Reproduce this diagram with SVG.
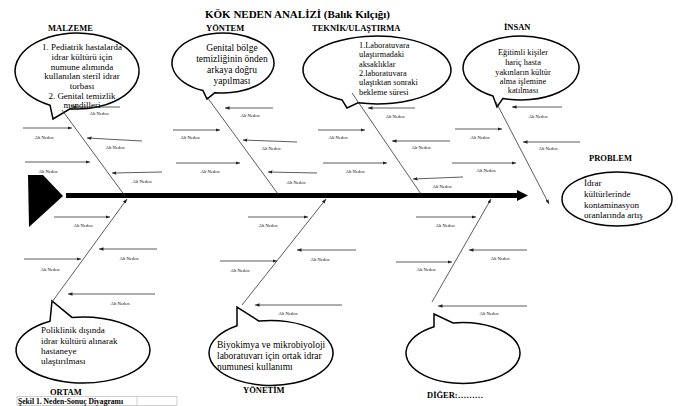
<svg xmlns="http://www.w3.org/2000/svg" width="678" height="406" viewBox="0 0 678 406">
<style>
text{font-family:"Liberation Serif","Times New Roman",serif;fill:#000}
.title{font-size:11px;font-weight:bold}
.cat{font-size:8.5px;font-weight:bold}
.bt{font-size:9px}
.alt{font-size:4.6px;text-anchor:middle}
.c{text-anchor:middle}
.balloon{fill:#fff;stroke:#000;stroke-width:1.5}
.bone{stroke:#333;stroke-width:0.8;fill:none}
.sub{stroke:#333;stroke-width:0.8;fill:none;marker-end:url(#ah)}
</style>
<defs>
<marker id="ah" viewBox="0 0 10 10" refX="10" refY="5" markerWidth="4.5" markerHeight="3.5" orient="auto" markerUnits="userSpaceOnUse" preserveAspectRatio="none">
<path d="M0,0 L10,5 L0,10 z" fill="#222"/>
</marker>
</defs>
<rect width="678" height="406" fill="#fff"/>

<g id="title"><text class="title" x="205" y="18" textLength="185" lengthAdjust="spacingAndGlyphs">KÖK NEDEN ANALİZİ (Balık Kılçığı)</text></g>

<g id="malzeme">
<text class="cat" x="48" y="31">MALZEME</text>
<path class="balloon" d="M70,108.76 A62,38 0 1 0 50,105.2 L53,119 Z"/>
<text class="bt c" x="82" y="50">1. Pediatrik hastalarda</text>
<text class="bt c" x="82" y="60">idrar kültürü için</text>
<text class="bt c" x="82" y="69.5">numune alımında</text>
<text class="bt c" x="82" y="79">kullanılan steril idrar</text>
<text class="bt c" x="82" y="89">torbası</text>
<text class="bt c" x="82" y="98.5">2. Genital temizlik</text>
<text class="bt c" x="82" y="108">mendilleri</text>
</g>

<g id="yontem">
<text class="cat" x="206" y="31">YÖNTEM</text>
<path class="balloon" d="M215,92.63 A51,30 0 1 0 203,90.6 L207,99 Z"/>
<text class="bt c" x="232" y="51" style="font-size:9.5px">Genital bölge</text>
<text class="bt c" x="232" y="62" style="font-size:9.5px">temizliğinin önden</text>
<text class="bt c" x="232" y="73" style="font-size:9.5px">arkaya doğru</text>
<text class="bt c" x="232" y="84" style="font-size:9.5px">yapılması</text>
</g>

<g id="teknik">
<text class="cat" x="312" y="31">TEKNİK/ULAŞTIRMA</text>
<path class="balloon" d="M358,102.86 A74,34 0 1 0 342,99.96 L347,108 Z"/>
<text class="bt" x="359" y="48" style="font-size:8.3px">1.Laboratuvara</text>
<text class="bt" x="359" y="57.3" style="font-size:8.3px">ulaştırmadaki</text>
<text class="bt" x="359" y="66.6" style="font-size:8.3px">aksaklıklar</text>
<text class="bt" x="359" y="76" style="font-size:8.3px">2.laboratuvara</text>
<text class="bt" x="359" y="85.3" style="font-size:8.3px">ulaştıktan sonraki</text>
<text class="bt" x="359" y="94.6" style="font-size:8.3px">bekleme süresi</text>
</g>

<g id="insan">
<text class="cat" x="504" y="30">İNSAN</text>
<path class="balloon" d="M503,98.42 A58,32 0 1 0 493,96.02 L497,107 Z"/>
<text class="bt c" x="523" y="55" style="font-size:8.3px">Eğitimli kişiler</text>
<text class="bt c" x="523" y="65" style="font-size:8.3px">hariç hasta</text>
<text class="bt c" x="523" y="74.5" style="font-size:8.3px">yakınların kültür</text>
<text class="bt c" x="523" y="84" style="font-size:8.3px">alma işlemine</text>
<text class="bt c" x="523" y="93" style="font-size:8.3px">katılması</text>
</g>

<g id="problem">
<text class="cat" x="589" y="161">PROBLEM</text>
<ellipse class="balloon" cx="617" cy="199" rx="55" ry="27"/>
<text class="bt" x="584" y="186">İdrar</text>
<text class="bt" x="584" y="197">kültürlerinde</text>
<text class="bt" x="584" y="207.5">kontaminasyon</text>
<text class="bt" x="584" y="218">oranlarında artış</text>
</g>

<g id="ortam">
<path class="balloon" d="M50,321.28 A67,33 0 1 0 72,317.45 L52,301 Z"/>
<text class="bt" x="41" y="333">Poliklinik dışında</text>
<text class="bt" x="41" y="343.5">idrar kültürü alınarak</text>
<text class="bt" x="41" y="354">hastaneye</text>
<text class="bt" x="41" y="364">ulaştırılması</text>
<text class="cat" x="50" y="395">ORTAM</text>
</g>

<g id="yonetim">
<path class="balloon" d="M237,325.82 A62,32.5 0 1 0 259,321.11 L237,307 Z"/>
<text class="bt" x="217" y="347.5" style="font-size:9.5px">Biyokimya ve mikrobiyoloji</text>
<text class="bt" x="217" y="358.5" style="font-size:9.5px">laboratuvarı için ortak idrar</text>
<text class="bt" x="217" y="369.5" style="font-size:9.5px">numunesi kullanımı</text>
<text class="cat" x="243" y="393">YÖNETİM</text>
</g>

<g id="diger">
<path class="balloon" d="M434,326.74 A57,30.5 0 1 0 453,322.97 L434,314 Z"/>
<text class="cat" x="427" y="398">DİĞER:………</text>
</g>

<g id="spine">
<polygon points="28,175 43,175 63,196 29,227" fill="#000"/>
<line x1="66" y1="195.5" x2="519" y2="195.5" stroke="#000" stroke-width="5"/>
<polygon points="517,190 528,195.5 517,201" fill="#000"/>
</g>

<g id="connectors">
<line class="bone" x1="62" y1="110" x2="125" y2="196"/>
<line class="bone" x1="207" y1="97" x2="278" y2="194"/>
<line class="bone" x1="352" y1="93" x2="421" y2="194"/>
<line class="sub" x1="496" y1="102" x2="549" y2="204"/>
<line class="sub" x1="52" y1="302" x2="127" y2="199"/>
<line class="sub" x1="242" y1="305" x2="326" y2="199"/>
<line class="sub" x1="432" y1="302" x2="491" y2="199"/>

<line class="sub" x1="120" y1="107" x2="72" y2="107"/>
<line class="sub" x1="23" y1="128" x2="72" y2="128"/>
<line class="sub" x1="142" y1="141" x2="87" y2="138"/>
<line class="sub" x1="25" y1="162" x2="90" y2="162"/>
<line class="sub" x1="162" y1="172" x2="112" y2="173"/>

<line class="sub" x1="273" y1="108" x2="225" y2="108"/>
<line class="sub" x1="173" y1="130" x2="220" y2="130"/>
<line class="sub" x1="297" y1="142" x2="243" y2="140"/>
<line class="sub" x1="176" y1="163" x2="240" y2="163"/>
<line class="sub" x1="317" y1="173" x2="268" y2="172"/>

<line class="sub" x1="415" y1="108" x2="368" y2="108"/>
<line class="sub" x1="318" y1="130" x2="365" y2="130"/>
<line class="sub" x1="450" y1="141" x2="392" y2="141"/>
<line class="sub" x1="323" y1="163" x2="387" y2="163"/>
<line class="sub" x1="463" y1="177" x2="413" y2="179"/>

<line class="sub" x1="562" y1="107" x2="512" y2="107"/>
<line class="sub" x1="455" y1="129" x2="502" y2="129"/>
<line class="sub" x1="580" y1="142" x2="523" y2="142"/>
<line class="sub" x1="452" y1="163" x2="516" y2="163"/>

<line class="sub" x1="54" y1="217" x2="110" y2="217"/>
<line class="sub" x1="157" y1="249" x2="99" y2="249"/>
<line class="sub" x1="24" y1="259" x2="81" y2="259"/>
<line class="sub" x1="155" y1="294" x2="68" y2="294"/>

<line class="sub" x1="248" y1="217" x2="308" y2="217"/>
<line class="sub" x1="356" y1="250" x2="297" y2="250"/>
<line class="sub" x1="220" y1="261" x2="277" y2="261"/>
<line class="sub" x1="342" y1="305" x2="255" y2="305"/>

<line class="sub" x1="416" y1="217" x2="476" y2="217"/>
<line class="sub" x1="527" y1="250" x2="469" y2="250"/>
<line class="sub" x1="396" y1="262" x2="452" y2="262"/>
<line class="sub" x1="527" y1="306" x2="438" y2="306"/>
</g>

<g id="sub-labels">
<text class="alt" x="99" y="115">Alt Neden</text>
<text class="alt" x="44" y="139">Alt Neden</text>
<text class="alt" x="115" y="149">Alt Neden</text>
<text class="alt" x="48" y="173">Alt Neden</text>
<text class="alt" x="142" y="183">Alt Neden</text>
<text class="alt" x="250" y="117">Alt Neden</text>
<text class="alt" x="190" y="139">Alt Neden</text>
<text class="alt" x="271" y="150">Alt Neden</text>
<text class="alt" x="210" y="173">Alt Neden</text>
<text class="alt" x="296" y="184">Alt Neden</text>
<text class="alt" x="395" y="118">Alt Neden</text>
<text class="alt" x="338" y="139">Alt Neden</text>
<text class="alt" x="421" y="149">Alt Neden</text>
<text class="alt" x="355" y="173">Alt Neden</text>
<text class="alt" x="442" y="188">Alt Neden</text>
<text class="alt" x="538" y="118">Alt Neden</text>
<text class="alt" x="480" y="139">Alt Neden</text>
<text class="alt" x="548" y="150">Alt Neden</text>
<text class="alt" x="486" y="172">Alt Neden</text>
<text class="alt" x="83" y="227">Alt Neden</text>
<text class="alt" x="129" y="260">Alt Neden</text>
<text class="alt" x="50" y="271">Alt Neden</text>
<text class="alt" x="120" y="305">Alt Neden</text>
<text class="alt" x="268" y="227">Alt Neden</text>
<text class="alt" x="320" y="261">Alt Neden</text>
<text class="alt" x="240" y="272">Alt Neden</text>
<text class="alt" x="288" y="315">Alt Neden</text>
<text class="alt" x="445" y="227">Alt Neden</text>
<text class="alt" x="500" y="260">Alt Neden</text>
<text class="alt" x="426" y="271">Alt Neden</text>
<text class="alt" x="489" y="315">Alt Neden</text>
</g>

<g id="caption">
<rect x="17" y="396.5" width="160" height="9" fill="none" stroke="#bbb" stroke-width="0.7"/>
<line x1="137" y1="396.5" x2="137" y2="405.5" stroke="#bbb" stroke-width="0.7"/>
<text x="18" y="404" style="font-size:7.6px;font-weight:bold">Şekil 1. Neden-Sonuç Diyagramı</text>
</g>
</svg>
